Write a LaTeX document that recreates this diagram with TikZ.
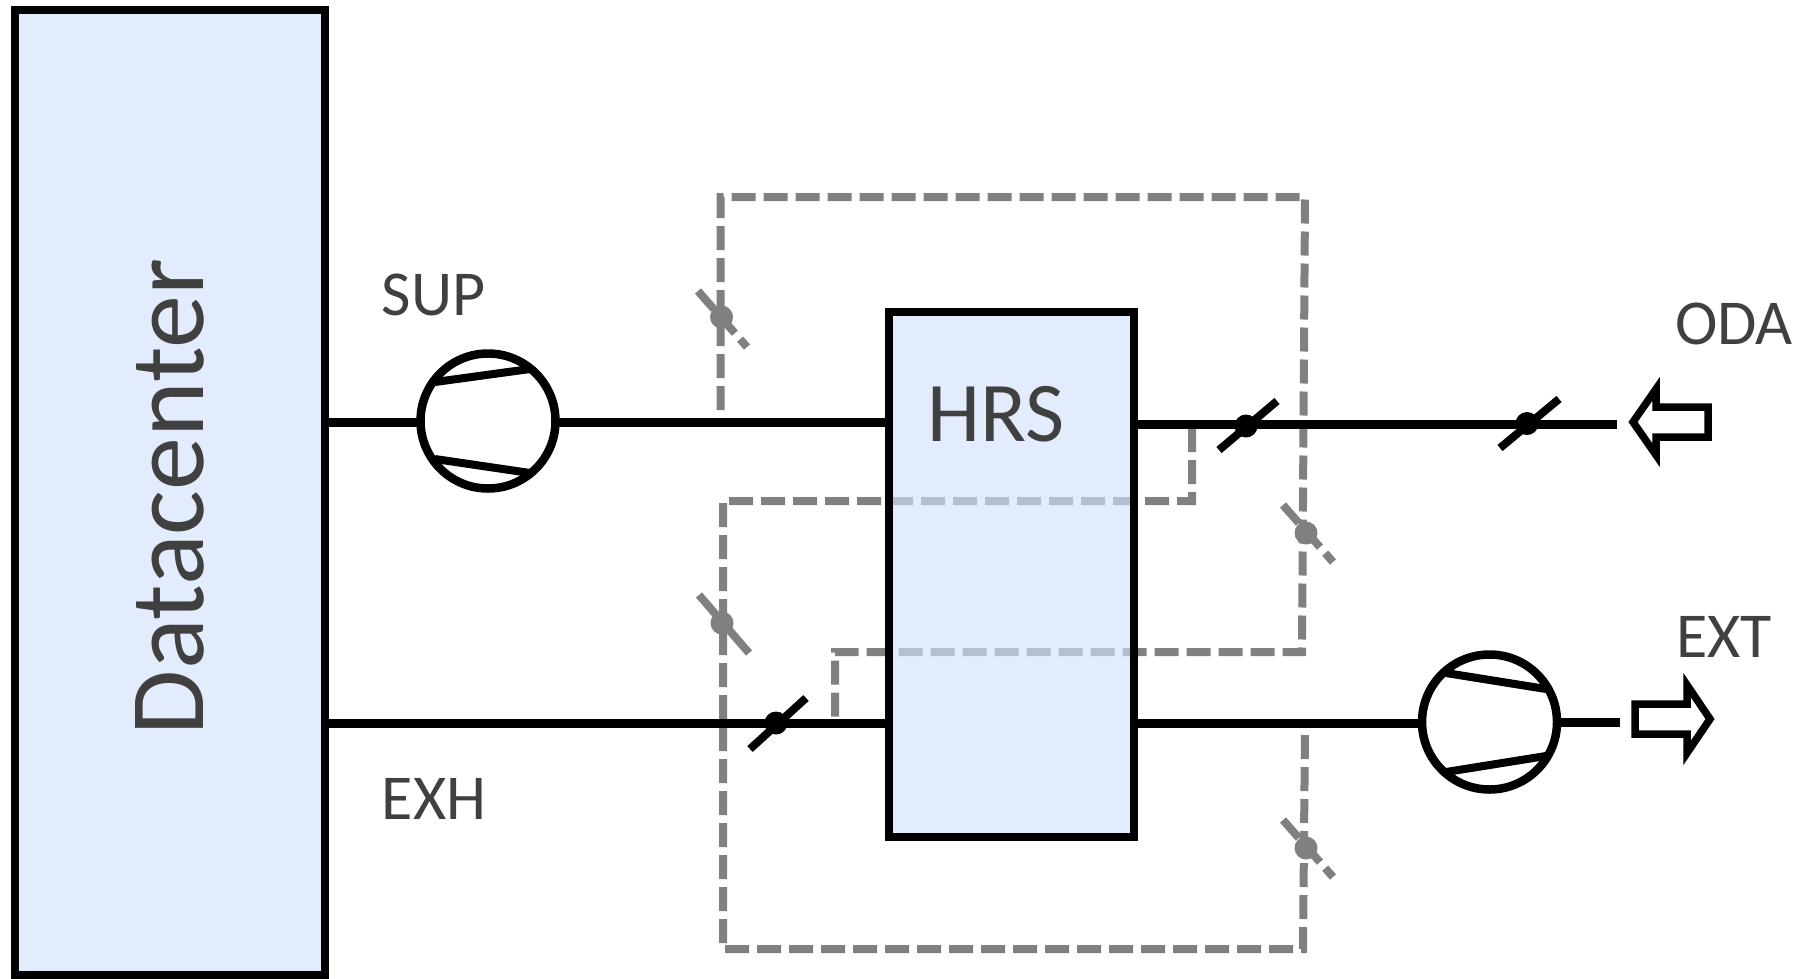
\documentclass[tikz,border=0pt]{standalone}
\usepackage{fontspec}
\setmainfont{Carlito}
\definecolor{boxblue}{RGB}{212,226,251}
\definecolor{dcblue}{RGB}{227,236,252}
\definecolor{ctrl}{RGB}{128,128,128}
\definecolor{lab}{RGB}{64,64,64}
\tikzset{
  blk/.style={draw=black,line width=8pt,line join=miter},
  duct/.style={draw=black,line width=9pt},
  bladeb/.style={draw=black,line width=8pt},
  ctrlline/.style={draw=ctrl,line width=8pt,dash pattern=on 24pt off 8pt},
  bladeg/.style={draw=ctrl,line width=8pt},
  fan/.style={circle,draw=black,line width=8.5pt,inner sep=0pt,outer sep=0pt,minimum size=135pt},
  lbl/.style={text=lab,inner sep=0pt,anchor=base,font=\fontsize{64}{64}\selectfont},
  hub/.style={circle,inner sep=0pt,outer sep=0pt,minimum size=23pt}
}
\begin{document}
\begin{tikzpicture}[x=1pt,y=-1pt]
\useasboundingbox (0,0) rectangle (1809,978);
% controls (dashed loops)
\draw[ctrlline] (720.5,410) -- (720.5,197) -- (1305,197) -- (1302,652) -- (835,652) -- (835,717);
\draw[ctrlline] (1192,428) -- (1192,501) -- (723,501) -- (723,949) -- (1303,949) -- (1305,728);
% boxes
\node[blk,fill=dcblue,inner sep=0pt,outer sep=0pt,minimum width=310pt,minimum height=965pt] (dc) at (170,492.5) {};
\node[blk,fill=boxblue,fill opacity=.65,inner sep=0pt,outer sep=0pt,minimum width=245pt,minimum height=525pt] (hrs) at (1011.5,574.5) {};
% fans
\node[fan] (fan1) at (488,421) {};
\node[fan] (fan2) at (1489.5,722) {};
\draw[line width=8pt] (435,382) -- (530,369);
\draw[line width=8pt] (435,459) -- (530,473);
\draw[line width=8pt] (1446,673) -- (1546,689);
\draw[line width=8pt] (1446,772) -- (1546,756);
% grey dampers
\node[hub,fill=ctrl] (g1) at (721.5,317) {};
\node[hub,fill=ctrl] (g2) at (1306,533) {};
\node[hub,fill=ctrl] (g3) at (722,623) {};
\node[hub,fill=ctrl] (g4) at (1306,848) {};
\draw[ctrlline] (698,291) -- (747,347);
\draw[ctrlline] (1283,505) -- (1333,562);
\draw[bladeg] (699,595) -- (749,653);
\draw[ctrlline] (1283,820) -- (1333,877);
% ducts
\coordinate (odaend) at (1617,424.5);
\coordinate (extend) at (1620,722);
\draw[duct] (dc.east |- 0,422.5) -- (fan1.west |- 0,422.5);
\draw[duct] (fan1.east |- 0,422.5) -- (hrs.west |- 0,422.5);
\draw[duct] (dc.east |- 0,723) -- (hrs.west |- 0,723);
\draw[duct] (hrs.east |- 0,424.5) -- (odaend);
\draw[duct] (hrs.east |- 0,723.5) -- (fan2.west |- 0,723.5);
\draw[duct] (fan2.east) -- (extend);
% black dampers
\node[hub,fill=black] (b1) at (1246,426) {};
\node[hub,fill=black] (b2) at (1527,423.5) {};
\node[hub,fill=black] (b3) at (776,723) {};
\draw[bladeb] (1219,450) -- (1277,401);
\draw[bladeb] (1500,448) -- (1559,399);
\draw[bladeb] (750,749) -- (806,698);
% flow arrows
\draw[line width=7.5pt,miter limit=10,line join=miter] (1633,422) -- (1656,389) -- (1656,407) -- (1708,407) -- (1708,437) -- (1656,437) -- (1656,455) -- cycle;
\draw[line width=7.5pt,miter limit=10,line join=miter] (1710,719) -- (1687,685) -- (1687,704) -- (1635,704) -- (1635,734) -- (1687,734) -- (1687,753) -- cycle;
% labels
\node[text=lab,inner sep=0pt,anchor=base,rotate=90,font=\fontsize{106}{106}\selectfont] (dct) at (203,497) {Datacenter};
\node[text=lab,inner sep=0pt,anchor=base,font=\fontsize{85}{85}\selectfont] (hrst) at (996,441) {HRS};
\node[lbl] (sup) at (433.5,315) {SUP};
\node[lbl] (exh) at (434,819) {EXH};
\node[lbl] (oda) at (1734,344) {ODA};
\node[lbl] (ext) at (1724,657) {EXT};
\end{tikzpicture}
\end{document}
